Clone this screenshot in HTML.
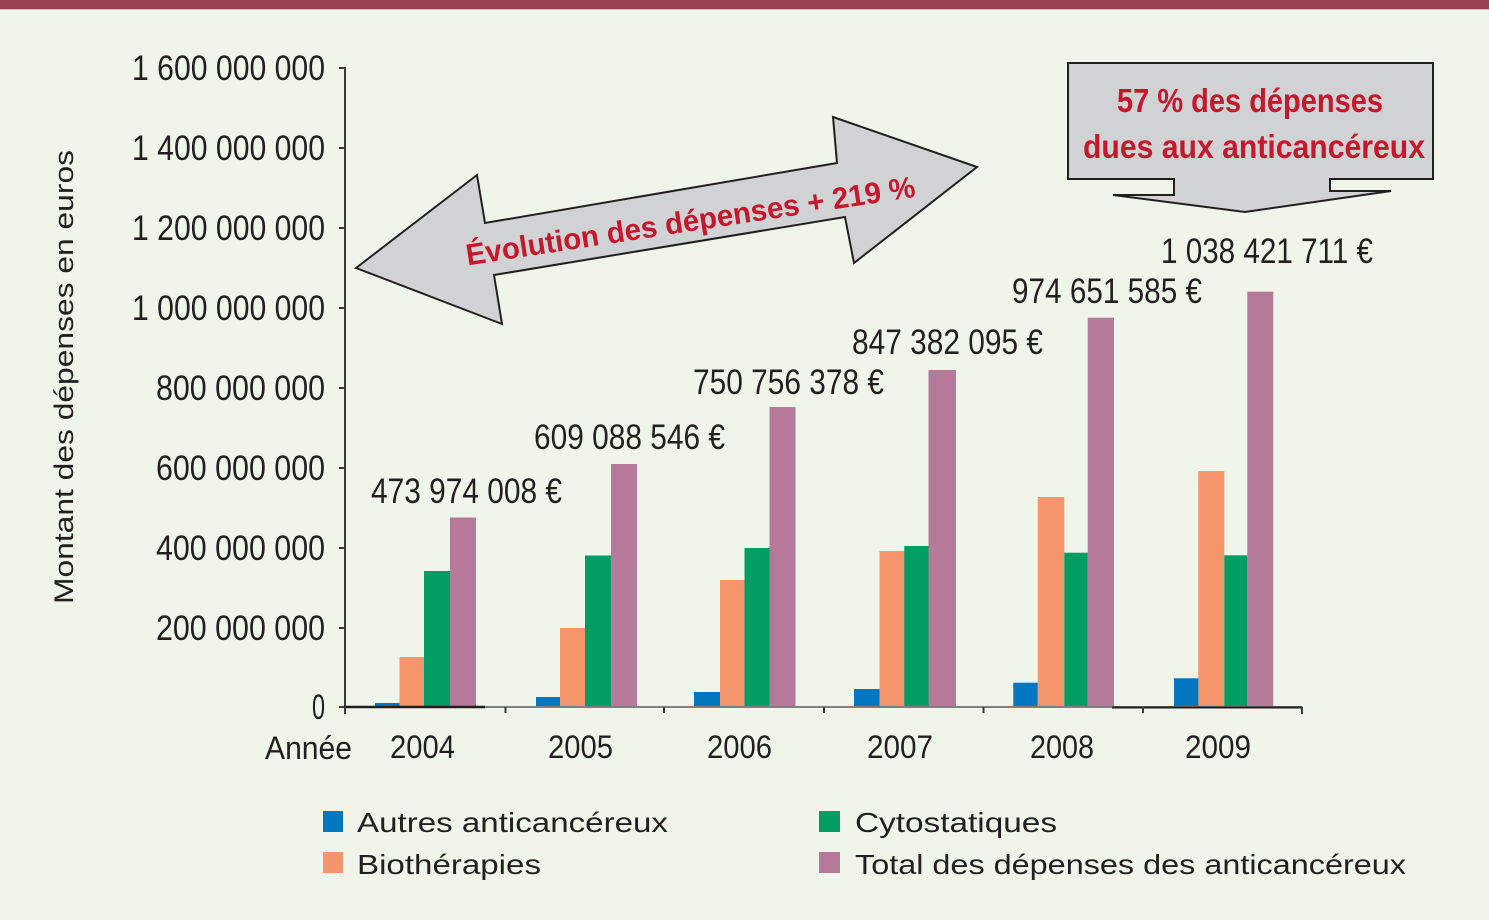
<!DOCTYPE html>
<html>
<head>
<meta charset="utf-8">
<style>
html,body{margin:0;padding:0;background:#eff6e9;}
svg{display:block;}
text{font-family:"Liberation Sans",sans-serif;fill:#231f20;}
.t{font-size:35px;}
.y{font-size:32px;}
.lg{font-size:28px;}
.red{fill:#c5182c;font-weight:bold;}
</style>
</head>
<body>
<svg width="1489" height="920" viewBox="0 0 1489 920" xmlns="http://www.w3.org/2000/svg">
<rect x="0" y="0" width="1489" height="920" fill="#eff6e9"/>
<rect x="0" y="0" width="1489" height="9" fill="#95434f"/>
<rect x="0" y="9" width="1489" height="1" fill="#d9b9b5"/>

<!-- Y axis label -->
<text transform="translate(73,377) rotate(-90)" text-anchor="middle" font-size="27" textLength="454" lengthAdjust="spacingAndGlyphs">Montant des dépenses en euros</text>

<!-- Y tick labels -->
<g class="t" text-anchor="end">
<text class="t" x="325" y="80" textLength="193" lengthAdjust="spacingAndGlyphs">1 600 000 000</text>
<text class="t" x="325" y="160" textLength="193" lengthAdjust="spacingAndGlyphs">1 400 000 000</text>
<text class="t" x="325" y="240" textLength="193" lengthAdjust="spacingAndGlyphs">1 200 000 000</text>
<text class="t" x="325" y="320" textLength="193" lengthAdjust="spacingAndGlyphs">1 000 000 000</text>
<text class="t" x="325" y="400" textLength="169" lengthAdjust="spacingAndGlyphs">800 000 000</text>
<text class="t" x="325" y="480" textLength="169" lengthAdjust="spacingAndGlyphs">600 000 000</text>
<text class="t" x="325" y="560" textLength="169" lengthAdjust="spacingAndGlyphs">400 000 000</text>
<text class="t" x="325" y="640" textLength="169" lengthAdjust="spacingAndGlyphs">200 000 000</text>
<text class="t" x="325" y="719" textLength="13" lengthAdjust="spacingAndGlyphs">0</text>
</g>

<!-- Bars -->
<g>
<!-- 2004 -->
<rect x="375" y="703" width="25" height="4.5" fill="#0077c0"/>
<rect x="399.5" y="657" width="25" height="50.5" fill="#f5956b"/>
<rect x="424" y="571" width="26" height="136.5" fill="#009e63"/>
<rect x="450" y="517.5" width="26" height="190" fill="#b57999"/>
<!-- 2005 -->
<rect x="536" y="697" width="24.5" height="10.5" fill="#0077c0"/>
<rect x="560" y="628" width="25" height="79.5" fill="#f5956b"/>
<rect x="585" y="555.5" width="26" height="152" fill="#009e63"/>
<rect x="611" y="464" width="26" height="243.5" fill="#b57999"/>
<!-- 2006 -->
<rect x="694" y="692" width="26" height="15.5" fill="#0077c0"/>
<rect x="720" y="580" width="25" height="127.5" fill="#f5956b"/>
<rect x="744.5" y="548" width="25.5" height="159.5" fill="#009e63"/>
<rect x="769.5" y="407" width="26" height="300.5" fill="#b57999"/>
<!-- 2007 -->
<rect x="854" y="689" width="25.5" height="18.5" fill="#0077c0"/>
<rect x="879.5" y="551" width="25" height="156.5" fill="#f5956b"/>
<rect x="904.3" y="546" width="24.2" height="161.5" fill="#009e63"/>
<rect x="928.5" y="370" width="27.5" height="337.5" fill="#b57999"/>
<!-- 2008 -->
<rect x="1013.3" y="682.7" width="24.5" height="24.8" fill="#0077c0"/>
<rect x="1037.7" y="497" width="26.6" height="210.5" fill="#f5956b"/>
<rect x="1064.3" y="552.7" width="23.5" height="154.8" fill="#009e63"/>
<rect x="1087.7" y="317.7" width="26.3" height="389.8" fill="#b57999"/>
<!-- 2009 -->
<rect x="1174" y="678.3" width="24.5" height="29.2" fill="#0077c0"/>
<rect x="1198.3" y="471" width="26" height="236.5" fill="#f5956b"/>
<rect x="1224.3" y="555.3" width="23" height="152.2" fill="#009e63"/>
<rect x="1247.3" y="291.7" width="26" height="415.8" fill="#b57999"/>
</g>

<!-- Axes -->
<g stroke="#3a3a3a" stroke-width="2" fill="none">
<line x1="345" y1="67" x2="345" y2="708"/>
<line x1="339" y1="68" x2="345" y2="68"/>
<line x1="339" y1="148" x2="345" y2="148"/>
<line x1="339" y1="228" x2="345" y2="228"/>
<line x1="339" y1="308" x2="345" y2="308"/>
<line x1="339" y1="388" x2="345" y2="388"/>
<line x1="339" y1="468" x2="345" y2="468"/>
<line x1="339" y1="548" x2="345" y2="548"/>
<line x1="339" y1="628" x2="345" y2="628"/>
<line x1="339" y1="707" x2="345" y2="707"/>
</g>
<line x1="345" y1="707" x2="1302" y2="707" stroke="#7d7f86" stroke-width="2"/>
<line x1="345" y1="707" x2="485" y2="707" stroke="#231f20" stroke-width="2.5"/>
<line x1="1112" y1="707.5" x2="1302" y2="707.5" stroke="#231f20" stroke-width="2"/>
<g stroke="#3a3a3a" stroke-width="2">
<line x1="345" y1="707" x2="345" y2="714"/>
<line x1="505.5" y1="707" x2="505.5" y2="713"/>
<line x1="664" y1="707" x2="664" y2="713"/>
<line x1="824" y1="707" x2="824" y2="713"/>
<line x1="983.5" y1="707" x2="983.5" y2="713"/>
<line x1="1143" y1="707" x2="1143" y2="713"/>
<line x1="1302" y1="707" x2="1302" y2="714"/>
</g>

<!-- X labels -->
<text class="y" x="265" y="759" textLength="87" lengthAdjust="spacingAndGlyphs">Année</text>
<g text-anchor="middle">
<text class="y" x="422.5" y="758" textLength="65" lengthAdjust="spacingAndGlyphs">2004</text>
<text class="y" x="580.5" y="758" textLength="65" lengthAdjust="spacingAndGlyphs">2005</text>
<text class="y" x="739.5" y="758" textLength="65" lengthAdjust="spacingAndGlyphs">2006</text>
<text class="y" x="900" y="758" textLength="66" lengthAdjust="spacingAndGlyphs">2007</text>
<text class="y" x="1062" y="758" textLength="64" lengthAdjust="spacingAndGlyphs">2008</text>
<text class="y" x="1218" y="758" textLength="66" lengthAdjust="spacingAndGlyphs">2009</text>
</g>

<!-- Value labels -->
<text class="t" x="371" y="503" textLength="191" lengthAdjust="spacingAndGlyphs">473 974 008 €</text>
<text class="t" x="534" y="449" textLength="191" lengthAdjust="spacingAndGlyphs">609 088 546 €</text>
<text class="t" x="693" y="394" textLength="191" lengthAdjust="spacingAndGlyphs">750 756 378 €</text>
<text class="t" x="852" y="354" textLength="191" lengthAdjust="spacingAndGlyphs">847 382 095 €</text>
<text class="t" x="1012" y="303" textLength="190" lengthAdjust="spacingAndGlyphs">974 651 585 €</text>
<text class="t" x="1161" y="263" textLength="212" lengthAdjust="spacingAndGlyphs">1 038 421 711 €</text>

<!-- Double arrow -->
<polygon points="356,268 477,175 485,223 837,163 833,117 977,167 854,263 845,217 494,275 502,324" fill="#d1d2d4" stroke="#231f20" stroke-width="2" stroke-linejoin="miter"/>
<text class="red" transform="translate(692,231) rotate(-8.7)" x="0" y="0" text-anchor="middle" font-size="30" textLength="454" lengthAdjust="spacingAndGlyphs">Évolution des dépenses + 219 %</text>

<!-- Callout box -->
<polygon points="1068,63 1433,63 1433,179 1330,179 1330,191 1391,191 1245,212 1113,195 1174,195 1174,179 1068,179" fill="#d1d2d4" stroke="#231f20" stroke-width="2" stroke-linejoin="miter"/>
<text class="red" x="1117" y="112" font-size="33" textLength="266" lengthAdjust="spacingAndGlyphs">57 % des dépenses</text>
<text class="red" x="1083" y="158" font-size="33" textLength="342" lengthAdjust="spacingAndGlyphs">dues aux anticancéreux</text>

<!-- Legend -->
<rect x="323" y="811" width="20" height="21" fill="#0077c0"/>
<text class="lg" x="357" y="832" textLength="311" lengthAdjust="spacingAndGlyphs">Autres anticancéreux</text>
<rect x="323" y="852" width="20" height="21" fill="#f5956b"/>
<text class="lg" x="357" y="874" textLength="184" lengthAdjust="spacingAndGlyphs">Biothérapies</text>
<rect x="819" y="811" width="21" height="21" fill="#009e63"/>
<text class="lg" x="855" y="832" textLength="202" lengthAdjust="spacingAndGlyphs">Cytostatiques</text>
<rect x="819" y="852" width="21" height="21" fill="#b57999"/>
<text class="lg" x="855" y="874" textLength="551" lengthAdjust="spacingAndGlyphs">Total des dépenses des anticancéreux</text>
</svg>
</body>
</html>
